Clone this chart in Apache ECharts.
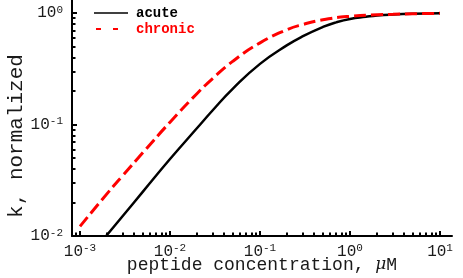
<!DOCTYPE html>
<html><head><meta charset="utf-8">
<script src="https://cdn.jsdelivr.net/npm/echarts@6/dist/echarts.min.js"></script>
<style>html,body{margin:0;padding:0;background:#fff}#c{width:463px;height:278px}</style>
</head><body><div id="c"></div>
<script>
// concentration (µM) and normalized k
const acuteX = [0.00195, 0.003, 0.005, 0.01, 0.02, 0.03, 0.05, 0.1, 0.2, 0.3, 0.5, 0.7, 1, 1.5, 2, 3, 5, 10];
const acuteY = [0.010, 0.0152, 0.025, 0.049, 0.093, 0.135, 0.21, 0.35, 0.515, 0.62, 0.75, 0.825, 0.885, 0.925, 0.95, 0.97, 0.985, 0.995];
const chronicX = [0.001, 0.002, 0.003, 0.005, 0.01, 0.02, 0.03, 0.05, 0.1, 0.2, 0.3, 0.5, 1, 2, 3, 5, 10];
const chronicY = [0.0122, 0.024, 0.035, 0.056, 0.105, 0.19, 0.26, 0.37, 0.54, 0.71, 0.79, 0.87, 0.935, 0.965, 0.975, 0.985, 0.995];
const seriesNames = ['acute', 'chronic'];
const xMajorTicks = [1e-3, 1e-2, 1e-1, 1, 10];
const yMajorTicks = [1e-2, 1e-1, 1];
const xTitle = 'peptide concentration, {i|\u03bc}M';
const yTitle = 'k, normalized';

const X_MIN = Math.pow(10, -3.089), X_MAX = Math.pow(10, 1.133);
const Y_MIN = 0.01, Y_MAX = Math.pow(10, 0.117);

function minorTicks(lo, hi) {
  const out = [];
  for (let d = -5; d <= 3; d++) {
    for (let k = 2; k <= 9; k++) {
      const v = k * Math.pow(10, d);
      if (v > lo && v < hi) out.push(v);
    }
  }
  return out;
}
function pairs(xs, ys) { return xs.map((x, i) => [x, ys[i]]); }
function powLabel(v) {
  const e = Math.round(Math.log10(v));
  return '{b|10}{s|' + (e < 0 ? '-' : '') + Math.abs(e) + '}';
}

const FONT = 'Liberation Mono';
const TXT = '#1a1a1a';
const labelStyle = {
  fontFamily: FONT, fontSize: 16, color: TXT, formatter: powLabel,
  rich: {
    b: { fontFamily: FONT, fontSize: 16, lineHeight: 17, color: TXT },
    s: { fontFamily: FONT, fontSize: 11, verticalAlign: 'top', lineHeight: 11, color: TXT }
  }
};
const axisLine = { show: true, onZero: false, lineStyle: { color: '#000', width: 2 } };

const chart = echarts.init(document.getElementById('c'), null, { renderer: 'canvas' });
chart.setOption({
  animation: false,
  grid: { left: 72, right: 11, top: 0, bottom: 42, containLabel: false, outerBoundsMode: 'none' },
  legend: {
    orient: 'vertical', left: 93, top: 6, padding: 0, itemWidth: 34, itemHeight: 14, itemGap: 2,
    textStyle: { fontFamily: FONT, fontSize: 14, fontWeight: 'bold', padding: [0, 0, 0, 3] },
    data: [
      { name: seriesNames[0], itemStyle: { opacity: 0 }, lineStyle: { width: 1.5, color: '#000' }, textStyle: { color: '#000' } },
      { name: seriesNames[1], itemStyle: { opacity: 0 }, lineStyle: { width: 2, color: '#ff0000', type: [5, 12], dashOffset: -2 }, textStyle: { color: '#ff0000' } }
    ]
  },
  xAxis: [
    {
      type: 'log', logBase: 10, min: X_MIN, max: X_MAX, position: 'bottom',
      axisLine: axisLine,
      axisTick: { show: true, inside: true, length: 5, lineStyle: { color: '#000', width: 2 }, customValues: xMajorTicks },
      axisLabel: Object.assign({ margin: 7, customValues: xMajorTicks }, labelStyle),
      splitLine: { show: false },
      name: xTitle, nameLocation: 'middle', nameGap: 20, nameMoveOverlap: false,
      nameTextStyle: { fontFamily: FONT, fontSize: 18, color: TXT, rich: { i: { fontFamily: 'DejaVu Serif', fontStyle: 'italic', fontSize: 17, color: TXT } } }
    },
    {
      type: 'log', logBase: 10, min: X_MIN, max: X_MAX, position: 'bottom', offset: 0,
      axisLine: { show: false },
      axisTick: { show: true, inside: true, length: 3.5, lineStyle: { color: '#000', width: 2 }, customValues: minorTicks(X_MIN, X_MAX) },
      axisLabel: { show: false }, splitLine: { show: false }
    }
  ],
  yAxis: [
    {
      type: 'log', logBase: 10, min: Y_MIN, max: Y_MAX, position: 'left',
      axisLine: axisLine,
      axisTick: { show: true, inside: true, length: 5, lineStyle: { color: '#000', width: 2 }, customValues: yMajorTicks },
      axisLabel: Object.assign({ margin: 9, customValues: yMajorTicks }, labelStyle),
      splitLine: { show: false },
      name: yTitle, nameLocation: 'middle', nameGap: 45, nameRotate: 90, nameMoveOverlap: false,
      nameTextStyle: { fontFamily: FONT, fontSize: 21, color: TXT, padding: [0, 36, 0, 0] }
    },
    {
      type: 'log', logBase: 10, min: Y_MIN, max: Y_MAX, position: 'left', offset: 0,
      axisLine: { show: false },
      axisTick: { show: true, inside: true, length: 3.5, lineStyle: { color: '#000', width: 2 }, customValues: minorTicks(Y_MIN, Y_MAX) },
      axisLabel: { show: false }, splitLine: { show: false }
    }
  ],
  series: [
    {
      name: seriesNames[0], type: 'line', xAxisIndex: 0, yAxisIndex: 0, smooth: 0.5, symbol: 'none',
      data: pairs(acuteX, acuteY), lineStyle: { color: '#000', width: 2.5 }, itemStyle: { color: '#000' }, z: 3
    },
    {
      name: seriesNames[1], type: 'line', xAxisIndex: 0, yAxisIndex: 0, smooth: 0.5, symbol: 'none',
      data: pairs(chronicX, chronicY), lineStyle: { color: '#ff0000', width: 3, type: [12, 5] }, itemStyle: { color: '#ff0000' }, z: 4
    }
  ]
});
</script></body></html>
